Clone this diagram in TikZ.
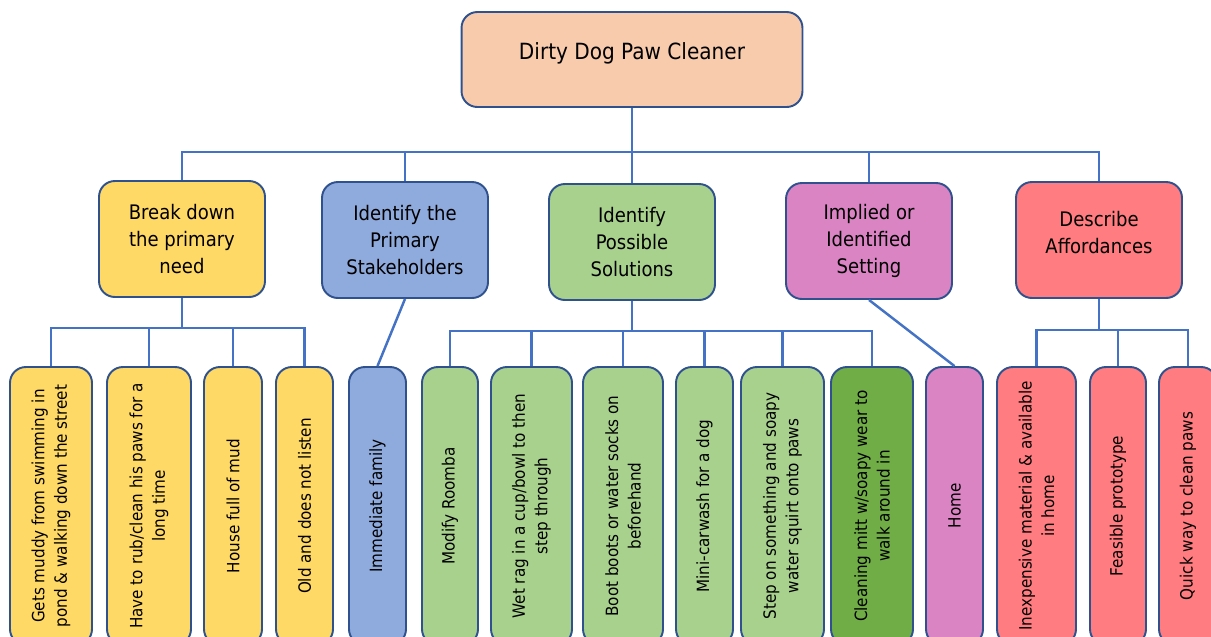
\documentclass[tikz,border=0pt]{standalone}
\usepackage{fontspec}
\setmainfont{DejaVu Sans Condensed}
\usepackage{tikz}
\usetikzlibrary{positioning}

\definecolor{edge}{HTML}{2F528F}
\definecolor{wire}{HTML}{4472C4}
\definecolor{peach}{HTML}{F8CBAD}
\definecolor{needc}{HTML}{FFD966}
\definecolor{stakec}{HTML}{8FAADC}
\definecolor{solc}{HTML}{A9D18E}
\definecolor{solbest}{HTML}{70AD47}
\definecolor{setc}{HTML}{DA84C4}
\definecolor{affc}{HTML}{FF7C80}

\tikzset{
  box/.style={draw=edge,line width=1.1pt,rounded corners=9pt,align=center,inner sep=2pt},
  head/.style={box,minimum width=3.32cm,minimum height=2.32cm,font=\fontsize{11.4}{15.5}\selectfont},
  leaf/.style={box,rotate=90,minimum width=5.56cm,font=\fontsize{9.6}{12.8}\selectfont},
  conn/.style={draw=wire,line width=1.4pt}
}

\begin{document}
\begin{tikzpicture}[x=0.02cm,y=-0.02cm]
  \useasboundingbox (0,0) rectangle (1211,636);
  \clip (0,0) rectangle (1211,636);
  % top
  \node[box,fill=peach,minimum width=6.82cm,minimum height=1.9cm,text depth=0.35cm,
        font=\fontsize{12.7}{15}\selectfont] (root) at (632,59.5) {Dirty Dog Paw Cleaner};
  % first level
  \node[head,fill=needc]  (need)  at (182,239)    {Break down\\the primary\\need};
  \node[head,fill=stakec] (stake) at (405,240)    {Identify the\\Primary\\Stakeholders};
  \node[head,fill=solc]   (sol)   at (632,242)    {Identify\\Possible\\Solutions};
  \node[head,fill=setc]   (set)   at (869,241)    {Implied or\\Identified\\Setting};
  \node[head,fill=affc,text depth=0.3cm] (aff) at (1099,240) {Describe\\Affordances};
  % second level
  \node[leaf,fill=needc,minimum height=1.64cm] (n1) at (51,506)  {Gets muddy from swimming in\\pond \& walking down the street};
  \node[leaf,fill=needc,minimum height=1.68cm] (n2) at (149,506) {Have to rub/clean his paws for a\\long time};
  \node[leaf,fill=needc,minimum height=1.16cm] (n3) at (233,506) {House full of mud};
  \node[leaf,fill=needc,minimum height=1.14cm] (n4) at (304.5,506) {Old and does not listen};
  \node[leaf,fill=stakec,minimum height=1.14cm] (fam) at (377.5,506) {Immediate family};
  \node[leaf,fill=solc,minimum height=1.12cm] (s1) at (450,506)   {Modify Roomba};
  \node[leaf,fill=solc,minimum height=1.62cm] (s2) at (531.5,506) {Wet rag in a cup/bowl to then\\step through};
  \node[leaf,fill=solc,minimum height=1.60cm] (s3) at (623,506)   {Boot boots or water socks on\\beforehand};
  \node[leaf,fill=solc,minimum height=1.14cm] (s4) at (704.5,506) {Mini-carwash for a dog};
  \node[leaf,fill=solc,minimum height=1.66cm] (s5) at (782.5,506) {Step on something and soapy\\water squirt onto paws};
  \node[leaf,fill=solbest,minimum height=1.64cm] (s6) at (872,506) {Cleaning mitt w/soapy wear to\\walk around in};
  \node[leaf,fill=setc,minimum height=1.14cm] (home) at (954.5,506) {Home};
  \node[leaf,fill=affc,minimum height=1.58cm] (a1) at (1036.5,506) {Inexpensive material \& available\\in home};
  \node[leaf,fill=affc,minimum height=1.12cm] (a2) at (1118,506)  {Feasible prototype};
  \node[leaf,fill=affc,minimum height=1.16cm] (a3) at (1188,506)  {Quick way to clean paws};
  % bus levels
  \coordinate (topbus) at (0,152);
  \coordinate (needbus) at (0,328);
  \coordinate (solbus) at (0,331);
  \coordinate (affbus) at (0,330);
  % connectors
  \draw[conn] (root.south) -- (root.south |- topbus);
  \foreach \k in {need,stake,sol,set,aff}
    \draw[conn] (root.south |- topbus) -| (\k.north);
  \draw[conn] (need.south) -- (need.south |- needbus);
  \foreach \k in {n1,n2,n3,n4}
    \draw[conn] (need.south |- needbus) -| (\k.east);
  \draw[conn] (sol.south) -- (sol.south |- solbus);
  \foreach \k in {s1,s2,s3,s4,s5,s6}
    \draw[conn] (sol.south |- solbus) -| (\k.east);
  \draw[conn] (aff.south) -- (aff.south |- affbus);
  \foreach \k in {a1,a2,a3}
    \draw[conn] (aff.south |- affbus) -| (\k.east);
  \draw[conn] (stake.south) -- (fam.east);
  \draw[conn] (set.south) -- (home.east);
\end{tikzpicture}
\end{document}
